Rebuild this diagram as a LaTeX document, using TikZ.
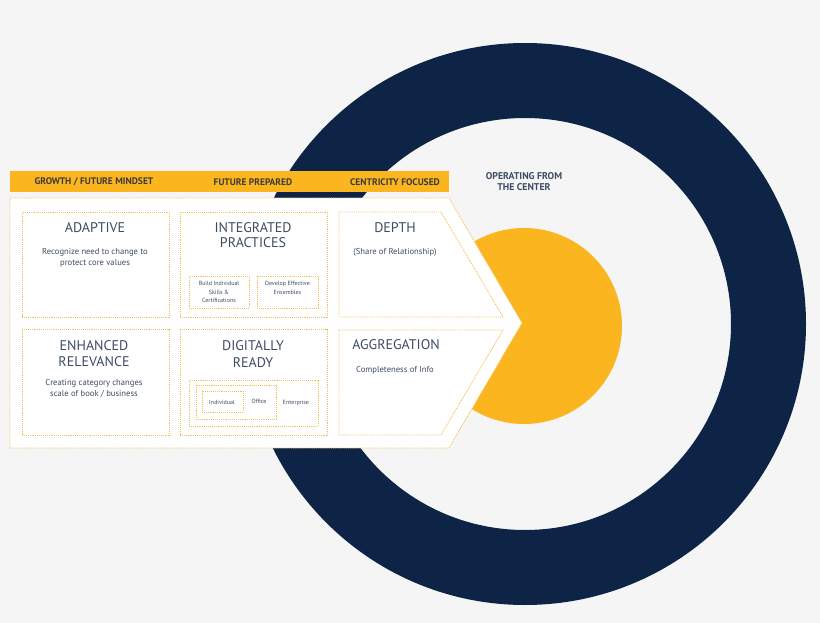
\documentclass[tikz,border=0pt]{standalone}
\usepackage{fontspec}
\setmainfont{PT Sans}
\definecolor{bg}{HTML}{F5F5F5}
\definecolor{navy}{HTML}{0D2446}
\definecolor{gold}{HTML}{FBB61F}
\definecolor{dotc}{HTML}{F6BF55}
\definecolor{txt}{HTML}{3E4C63}
\definecolor{htxt}{HTML}{3B3A3A}
\tikzset{
  dotbox/.style={draw=dotc, densely dotted, line width=0.9pt},
  cellbox/.style={dotbox, rectangle, inner sep=0pt},
  title/.style={text=txt, font=\fontsize{14}{15}\selectfont, align=center, inner sep=0pt},
  sub/.style={text=txt, font=\fontsize{8.6}{11}\selectfont, align=center, inner sep=0pt},
  tiny/.style={text=txt, font=\fontsize{6}{8.4}\selectfont, align=center, inner sep=0pt},
  head/.style={text=htxt, font=\bfseries\fontsize{9.5}{10}\selectfont, inner sep=0pt},
}
\begin{document}
\begin{tikzpicture}[x=1pt,y=-1pt]
\fill[bg] (0,0) rectangle (820,623);
\useasboundingbox (0,0) rectangle (820,623);
% ring
\fill[navy,even odd rule] (525,324) circle[radius=281] (525,324) circle[radius=206];
% centre
\fill[gold] (524,326) circle[radius=98];
\node[head, text=txt, align=center, font=\bfseries\fontsize{9.8}{11.5}\selectfont] (center) at (524,181.5) {OPERATING FROM\\THE CENTER};
% header bar
\node[fill=gold, minimum width=439pt, minimum height=21pt, inner sep=0pt] (bar) at (229.5,181.5) {};
\node[head] (h1) at (94,182) {GROWTH / FUTURE MINDSET};
\node[head] (h2) at (253,182) {FUTURE PREPARED};
\node[head] (h3) at (395,182) {CENTRICITY FOCUSED};
% panel
\filldraw[fill=white, dotbox] (10,198) -- (449,198) -- (522,323) -- (449,448) -- (10,448) -- cycle;
% row 1
\node[cellbox, minimum width=147pt, minimum height=105pt] (adaptive) at (95.5,264.5) {};
\node[cellbox, minimum width=147pt, minimum height=105pt] (integrated) at (253.5,264.5) {};
\draw[dotbox] (339,212) -- (441,212) -- (503,317) -- (339,317) -- cycle;
\coordinate (depth) at (395,212);
% row 2
\node[cellbox, minimum width=147pt, minimum height=106pt] (enhanced) at (95.5,382) {};
\node[cellbox, minimum width=147pt, minimum height=106pt] (digital) at (253.5,382) {};
\draw[dotbox] (339,330) -- (503,330) -- (441,435) -- (339,435) -- cycle;
\coordinate (aggr) at (395,330);
% small boxes
\node[cellbox, minimum width=60pt, minimum height=32pt] (build) at (219,292) {};
\node[cellbox, minimum width=61pt, minimum height=32pt] (develop) at (287.5,292) {};
\node[cellbox, minimum width=129pt, minimum height=46pt] (enterprise) at (253.5,403) {};
\node[cellbox, minimum width=80pt, minimum height=34pt] (office) at (236,402) {};
\node[cellbox, minimum width=41pt, minimum height=21pt] (individual) at (222.5,401.5) {};
% texts row 1
\node[title] (t1) at (95,228) {ADAPTIVE};
\node[sub] (s1) at (95,257.5) {Recognize need to change to\\protect core values};
\node[title] (t2) at (253,235.5) {INTEGRATED\\PRACTICES};
\node[tiny] (s21) at (219,292) {Build Individual\\Skills \&\\Certifications};
\node[tiny] (s22) at (287.5,288) {Develop Effective\\Ensembles};
\node[title] (t3) at (395,228) {DEPTH};
\node[sub] (s3) at (395,252) {(Share of Relationship)};
% texts row 2
\node[title, font=\fontsize{14}{16.5}\selectfont] (t4) at (94,353.5) {ENHANCED\\RELEVANCE};
\node[sub] (s4) at (94,388.5) {Creating category changes\\scale of book / business};
\node[title, font=\fontsize{14}{16.5}\selectfont] (t5) at (253,354) {DIGITALLY\\READY};
\node[tiny] (s51) at (222,402) {Individual};
\node[tiny] (s52) at (259,401) {Office};
\node[tiny] (s53) at (296,403) {Enterprise};
\node[title] (t6) at (396,345) {AGGREGATION};
\node[sub] (s6) at (395,370) {Completeness of Info};
\end{tikzpicture}
\end{document}
